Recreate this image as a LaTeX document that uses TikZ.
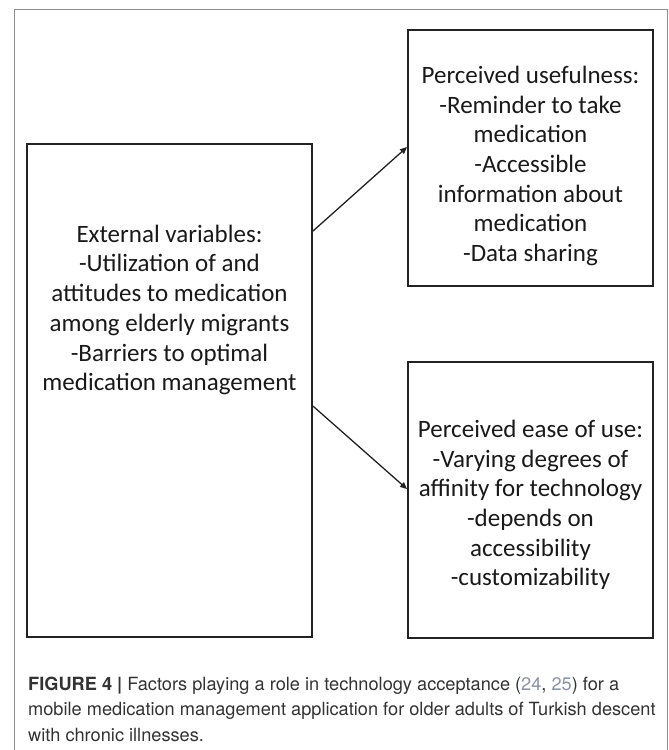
\documentclass[tikz,border=0pt]{standalone}
\usepackage{fontspec}
\setmainfont{Carlito}
\newfontfamily\capfont{TeX Gyre Heros}
\usetikzlibrary{arrows.meta}
\definecolor{boxline}{HTML}{222222}
\definecolor{framegray}{HTML}{8C8C8C}
\definecolor{captxt}{HTML}{333333}
\definecolor{refcol}{HTML}{8A94A6}
\begin{document}
\begin{tikzpicture}[x=1pt,y=-1pt,
  box/.style={draw=boxline, line width=1.9pt, rectangle, inner sep=0pt},
  boxtext/.style={align=center, inner sep=0pt, text=black!90,
    font=\fontsize{25}{29.7}\selectfont},
  arr/.style={draw=boxline, line width=1.3pt, -{Triangle[length=7pt,width=6pt]}},
  captext/.style={anchor=base west, inner sep=0pt, text=captxt,
    font=\capfont\fontsize{18.2}{25}\selectfont}]
\useasboundingbox (0,0) rectangle (669,750);
\draw[framegray, line width=1pt] (14,750) -- (14,9) -- (667,9) -- (667,750);

% boxes
\node[box, minimum width=285pt, minimum height=493pt] (L) at (169.5,390.5) {};
\node[box, minimum width=245pt, minimum height=256pt] (TR) at (530.5,158) {};
\node[box, minimum width=245pt, minimum height=276pt] (BR) at (530.5,500) {};

% texts
\node[boxtext] (Ltxt) at (169.5,310) {External variables:\\-Utilization of and\\attitudes to medication\\among elderly migrants\\-Barriers to optimal\\medication management};
\node[boxtext] (TRtxt) at (530.5,166) {Perceived usefulness:\\-Reminder to take\\medication\\-Accessible\\information about\\medication\\-Data sharing};
\node[boxtext] (BRtxt) at (530.5,505) {Perceived ease of use:\\-Varying degrees of\\affinity for technology\\-depends on\\accessibility\\-customizability};

% connectors
\path (L.north east) ++(0,88) coordinate (s1);
\path (TR.north west) ++(0,118) coordinate (e1);
\path (L.north east) ++(0,263) coordinate (s2);
\path (BR.north west) ++(0,128) coordinate (e2);
\draw[arr] (s1) -- (e1);
\draw[arr] (s2) -- (e2);

% caption
\node[captext] (cap1) at (28,690) {\textbf{FIGURE 4 |} Factors playing a role in technology acceptance ({\color{refcol}24}, {\color{refcol}25}) for a};
\node[captext] (cap2) at (28,715.5) {mobile medication management application for older adults of Turkish descent};
\node[captext] (cap3) at (28,741) {with chronic illnesses.};
\end{tikzpicture}
\end{document}
